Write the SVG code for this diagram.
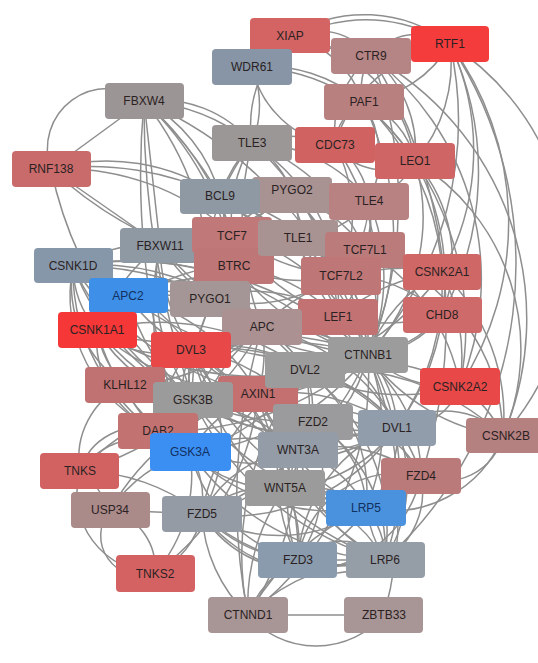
<svg xmlns="http://www.w3.org/2000/svg" width="538" height="663" viewBox="0 0 538 663">
<style>
.e path{fill:none;stroke:#8e8e8e;stroke-width:1.5}
.n rect{rx:4px;ry:4px}
.n text{font-family:"Liberation Sans",Arial,sans-serif;font-size:12px;fill:#2a2222;text-anchor:middle}
.b text{fill:#123060}
</style>
<rect width="538" height="663" fill="#ffffff"/>
<g id="edges" class="e">
<path d="M363,102 A60,60 0 0 1 371,56"/>
<path d="M363,102 A80,80 0 0 1 415,161"/>
<path d="M363,102 A50,50 0 0 0 335,145"/>
<path d="M363,102 A120,120 0 0 0 450,44"/>
<path d="M363,102 A150,150 0 0 0 252,67"/>
<path d="M371,56 A120,120 0 0 1 415,161"/>
<path d="M371,56 A100,100 0 0 0 335,145"/>
<path d="M371,56 A60,60 0 0 1 450,44"/>
<path d="M371,56 A130,130 0 0 0 252,67"/>
<path d="M415,161 A60,60 0 0 1 335,145"/>
<path d="M415,161 A150,150 0 0 0 450,44"/>
<path d="M415,161 A200,200 0 0 0 252,67"/>
<path d="M335,145 A140,140 0 0 1 450,44"/>
<path d="M335,145 A100,100 0 0 1 252,67"/>
<path d="M450,44 A160,160 0 0 0 252,67"/>
<path d="M290,36 A140,140 0 0 1 450,44"/>
<path d="M290,36 A70,70 0 0 1 371,56"/>
<path d="M290,36 A100,100 0 0 1 363,102"/>
<path d="M290,36 A150,150 0 0 1 415,161"/>
<path d="M290,36 A120,120 0 0 0 252,143"/>
<path d="M252,67 A100,100 0 0 1 252,143"/>
<path d="M450,44 A260,260 0 0 1 503,436"/>
<path d="M371,56 A300,300 0 0 1 503,436"/>
<path d="M415,161 A220,220 0 0 1 503,436"/>
<path d="M363,102 A250,250 0 0 1 442,272"/>
<path d="M450,44 A350,350 0 0 1 368,355"/>
<path d="M371,56 A400,400 0 0 1 368,355"/>
<path d="M415,161 A200,200 0 0 1 368,355"/>
<path d="M335,145 A250,250 0 0 1 368,355"/>
<path d="M363,102 A300,300 0 0 1 368,355"/>
<path d="M450,44 A400,400 0 0 1 385,560"/>
<path d="M371,56 A280,280 0 0 1 460,386"/>
<path d="M450,44 A300,300 0 0 1 460,386"/>
<path d="M415,161 A150,150 0 0 1 442,315"/>
<path d="M363,102 A100,100 0 0 1 369,201"/>
<path d="M335,145 A80,80 0 0 1 369,201"/>
<path d="M335,145 A150,150 0 0 1 340,275"/>
<path d="M415,161 A80,80 0 0 1 369,201"/>
<path d="M450,44 A250,250 0 0 1 442,272"/>
<path d="M450,44 A300,300 0 0 1 442,315"/>
<path d="M363,102 A300,300 0 0 1 460,386"/>
<path d="M415,161 A250,250 0 0 1 397,427"/>
<path d="M371,56 A500,500 0 0 1 421,476"/>
<path d="M368,355 A200,200 0 0 0 262,327"/>
<path d="M368,355 A200,200 0 0 1 258,394"/>
<path d="M368,355 A250,250 0 0 1 193,400"/>
<path d="M368,355 A250,250 0 0 1 190,452"/>
<path d="M368,355 A120,120 0 0 1 397,427"/>
<path d="M368,355 A150,150 0 0 1 305,370"/>
<path d="M368,355 A250,250 0 0 0 191,349"/>
<path d="M368,355 A200,200 0 0 1 366,508"/>
<path d="M368,355 A250,250 0 0 1 385,560"/>
<path d="M368,355 A200,200 0 0 0 232,234"/>
<path d="M368,355 A150,150 0 0 0 365,250"/>
<path d="M368,355 A100,100 0 0 0 340,275"/>
<path d="M368,355 A100,100 0 0 1 338,317"/>
<path d="M368,355 A250,250 0 0 1 234,265"/>
<path d="M368,355 A300,300 0 0 1 160,245"/>
<path d="M368,355 A300,300 0 0 1 97,330"/>
<path d="M368,355 A350,350 0 0 0 73,266"/>
<path d="M368,355 A150,150 0 0 1 442,272"/>
<path d="M368,355 A120,120 0 0 0 460,386"/>
<path d="M368,355 A200,200 0 0 0 503,436"/>
<path d="M368,355 A150,150 0 0 0 298,238"/>
<path d="M368,355 A200,200 0 0 1 210,298"/>
<path d="M368,355 A250,250 0 0 0 292,195"/>
<path d="M368,355 A250,250 0 0 0 220,196"/>
<path d="M368,355 A300,300 0 0 1 128,296"/>
<path d="M368,355 A300,300 0 0 1 248,615"/>
<path d="M368,355 A300,300 0 0 1 202,514"/>
<path d="M368,355 A150,150 0 0 1 298,450"/>
<path d="M368,355 A120,120 0 0 0 442,315"/>
<path d="M368,355 A300,300 0 0 1 157,431"/>
<path d="M368,355 A300,300 0 0 0 125,385"/>
<path d="M262,327 A150,150 0 0 1 258,394"/>
<path d="M262,327 A150,150 0 0 0 193,400"/>
<path d="M262,327 A200,200 0 0 0 190,452"/>
<path d="M262,327 A200,200 0 0 1 397,427"/>
<path d="M262,327 A120,120 0 0 1 305,370"/>
<path d="M262,327 A120,120 0 0 0 191,349"/>
<path d="M262,327 A250,250 0 0 1 97,330"/>
<path d="M262,327 A250,250 0 0 0 73,266"/>
<path d="M262,327 A150,150 0 0 1 234,265"/>
<path d="M262,327 A200,200 0 0 1 160,245"/>
<path d="M262,327 A200,200 0 0 0 128,296"/>
<path d="M262,327 A200,200 0 0 1 442,272"/>
<path d="M262,327 A200,200 0 0 1 125,385"/>
<path d="M262,327 A300,300 0 0 1 80,471"/>
<path d="M258,394 A100,100 0 0 0 193,400"/>
<path d="M258,394 A150,150 0 0 0 190,452"/>
<path d="M258,394 A200,200 0 0 1 397,427"/>
<path d="M258,394 A120,120 0 0 1 305,370"/>
<path d="M258,394 A150,150 0 0 1 191,349"/>
<path d="M258,394 A250,250 0 0 1 97,330"/>
<path d="M258,394 A300,300 0 0 1 73,266"/>
<path d="M258,394 A200,200 0 0 0 366,508"/>
<path d="M258,394 A250,250 0 0 0 385,560"/>
<path d="M258,394 A100,100 0 0 1 312,421"/>
<path d="M258,394 A150,150 0 0 0 298,450"/>
<path d="M258,394 A250,250 0 0 0 80,471"/>
<path d="M258,394 A250,250 0 0 1 155,573"/>
<path d="M258,394 A250,250 0 0 0 110,510"/>
<path d="M193,400 A120,120 0 0 1 190,452"/>
<path d="M193,400 A250,250 0 0 0 397,427"/>
<path d="M193,400 A150,150 0 0 0 305,370"/>
<path d="M193,400 A100,100 0 0 1 191,349"/>
<path d="M193,400 A250,250 0 0 0 366,508"/>
<path d="M193,400 A300,300 0 0 0 385,560"/>
<path d="M193,400 A150,150 0 0 1 97,330"/>
<path d="M193,400 A250,250 0 0 1 73,266"/>
<path d="M193,400 A200,200 0 0 1 234,265"/>
<path d="M193,400 A200,200 0 0 1 160,245"/>
<path d="M193,400 A100,100 0 0 0 157,431"/>
<path d="M193,400 A250,250 0 0 0 312,421"/>
<path d="M193,400 A200,200 0 0 1 298,450"/>
<path d="M190,452 A250,250 0 0 0 397,427"/>
<path d="M190,452 A200,200 0 0 0 305,370"/>
<path d="M190,452 A150,150 0 0 1 191,349"/>
<path d="M190,452 A200,200 0 0 0 366,508"/>
<path d="M190,452 A250,250 0 0 0 385,560"/>
<path d="M190,452 A150,150 0 0 0 298,560"/>
<path d="M190,452 A100,100 0 0 1 202,514"/>
<path d="M190,452 A120,120 0 0 1 298,450"/>
<path d="M190,452 A120,120 0 0 0 285,488"/>
<path d="M190,452 A200,200 0 0 1 97,330"/>
<path d="M190,452 A800,800 0 0 1 144,101"/>
<path d="M190,452 A300,300 0 0 1 160,245"/>
<path d="M190,452 A250,250 0 0 1 234,265"/>
<path d="M190,452 A80,80 0 0 0 80,471"/>
<path d="M190,452 A150,150 0 0 0 110,510"/>
<path d="M190,452 A150,150 0 0 1 155,573"/>
<path d="M190,452 A120,120 0 0 1 125,385"/>
<path d="M397,427 A150,150 0 0 0 305,370"/>
<path d="M397,427 A250,250 0 0 0 191,349"/>
<path d="M397,427 A150,150 0 0 1 312,421"/>
<path d="M397,427 A150,150 0 0 1 298,450"/>
<path d="M397,427 A150,150 0 0 1 285,488"/>
<path d="M397,427 A100,100 0 0 1 366,508"/>
<path d="M397,427 A150,150 0 0 1 385,560"/>
<path d="M397,427 A150,150 0 0 0 298,560"/>
<path d="M397,427 A200,200 0 0 1 202,514"/>
<path d="M397,427 A100,100 0 0 0 421,476"/>
<path d="M397,427 A80,80 0 0 1 503,436"/>
<path d="M397,427 A60,60 0 0 0 460,386"/>
<path d="M397,427 A300,300 0 0 0 73,266"/>
<path d="M397,427 A300,300 0 0 1 97,330"/>
<path d="M305,370 A150,150 0 0 0 191,349"/>
<path d="M305,370 A100,100 0 0 1 312,421"/>
<path d="M305,370 A120,120 0 0 0 298,450"/>
<path d="M305,370 A150,150 0 0 1 285,488"/>
<path d="M305,370 A150,150 0 0 1 366,508"/>
<path d="M305,370 A200,200 0 0 1 385,560"/>
<path d="M305,370 A200,200 0 0 0 298,560"/>
<path d="M305,370 A200,200 0 0 0 202,514"/>
<path d="M305,370 A150,150 0 0 1 421,476"/>
<path d="M305,370 A200,200 0 0 1 460,386"/>
<path d="M305,370 A250,250 0 0 1 503,436"/>
<path d="M305,370 A300,300 0 0 0 73,266"/>
<path d="M305,370 A250,250 0 0 0 97,330"/>
<path d="M191,349 A200,200 0 0 1 312,421"/>
<path d="M191,349 A200,200 0 0 0 298,450"/>
<path d="M191,349 A200,200 0 0 1 285,488"/>
<path d="M191,349 A250,250 0 0 0 366,508"/>
<path d="M191,349 A300,300 0 0 0 385,560"/>
<path d="M191,349 A250,250 0 0 1 298,560"/>
<path d="M191,349 A150,150 0 0 1 202,514"/>
<path d="M191,349 A150,150 0 0 1 421,476"/>
<path d="M191,349 A200,200 0 0 0 73,266"/>
<path d="M191,349 A100,100 0 0 1 97,330"/>
<path d="M312,421 A150,150 0 0 0 285,488"/>
<path d="M312,421 A150,150 0 0 1 298,560"/>
<path d="M312,421 A100,100 0 0 1 421,476"/>
<path d="M312,421 A150,150 0 0 1 202,514"/>
<path d="M312,421 A100,100 0 0 1 366,508"/>
<path d="M312,421 A150,150 0 0 1 385,560"/>
<path d="M298,450 A150,150 0 0 0 298,560"/>
<path d="M298,450 A150,150 0 0 1 421,476"/>
<path d="M298,450 A120,120 0 0 0 202,514"/>
<path d="M298,450 A120,120 0 0 1 366,508"/>
<path d="M298,450 A150,150 0 0 0 385,560"/>
<path d="M285,488 A120,120 0 0 1 298,560"/>
<path d="M285,488 A150,150 0 0 0 421,476"/>
<path d="M285,488 A100,100 0 0 0 202,514"/>
<path d="M285,488 A100,100 0 0 1 366,508"/>
<path d="M285,488 A150,150 0 0 1 385,560"/>
<path d="M298,560 A100,100 0 0 1 421,476"/>
<path d="M298,560 A150,150 0 0 1 202,514"/>
<path d="M298,560 A120,120 0 0 0 366,508"/>
<path d="M298,560 A60,60 0 0 1 385,560"/>
<path d="M298,560 A200,200 0 0 0 385,560"/>
<path d="M298,560 L385,560"/>
<path d="M421,476 A120,120 0 0 1 202,514"/>
<path d="M421,476 A100,100 0 0 1 366,508"/>
<path d="M421,476 A80,80 0 0 1 385,560"/>
<path d="M202,514 A150,150 0 0 0 366,508"/>
<path d="M202,514 A150,150 0 0 0 385,560"/>
<path d="M202,514 A200,200 0 0 0 385,560"/>
<path d="M366,508 A80,80 0 0 1 385,560"/>
<path d="M366,508 A150,150 0 0 0 385,560"/>
<path d="M503,436 A60,60 0 0 1 421,476"/>
<path d="M503,436 A120,120 0 0 1 366,508"/>
<path d="M202,514 A80,80 0 0 1 155,573"/>
<path d="M202,514 L110,510"/>
<path d="M202,514 A150,150 0 0 0 248,615"/>
<path d="M248,615 L384,615"/>
<path d="M248,615 A90,90 0 0 0 384,615"/>
<path d="M248,615 A100,100 0 0 1 298,560"/>
<path d="M248,615 A200,200 0 0 1 385,560"/>
<path d="M248,615 A250,250 0 0 1 366,508"/>
<path d="M248,615 A300,300 0 0 1 305,370"/>
<path d="M248,615 A600,600 0 0 1 262,327"/>
<path d="M248,615 A300,300 0 0 0 298,450"/>
<path d="M248,615 A200,200 0 0 1 285,488"/>
<path d="M384,615 A400,400 0 0 0 368,355"/>
<path d="M80,471 A100,100 0 0 1 110,510"/>
<path d="M80,471 A80,80 0 0 0 155,573"/>
<path d="M80,471 A60,60 0 0 1 157,431"/>
<path d="M110,510 A40,40 0 0 0 155,573"/>
<path d="M110,510 A60,60 0 0 1 155,573"/>
<path d="M80,471 A200,200 0 0 1 202,514"/>
<path d="M80,471 A80,80 0 0 1 125,385"/>
<path d="M125,385 A150,150 0 0 1 191,349"/>
<path d="M125,385 A250,250 0 0 0 305,370"/>
<path d="M73,266 A120,120 0 0 0 125,385"/>
<path d="M73,266 A150,150 0 0 0 157,431"/>
<path d="M73,266 A200,200 0 0 0 190,452"/>
<path d="M73,266 A300,300 0 0 0 193,400"/>
<path d="M73,266 A100,100 0 0 0 97,330"/>
<path d="M73,266 A150,150 0 0 1 160,245"/>
<path d="M97,330 A100,100 0 0 0 157,431"/>
<path d="M97,330 A100,100 0 0 0 125,385"/>
<path d="M157,431 A150,150 0 0 1 191,349"/>
<path d="M157,431 A250,250 0 0 1 305,370"/>
<path d="M157,431 A300,300 0 0 1 397,427"/>
<path d="M144,101 A60,60 0 0 0 51,169"/>
<path d="M144,101 L51,169"/>
<path d="M144,101 A200,200 0 0 1 252,143"/>
<path d="M144,101 A120,120 0 0 1 252,143"/>
<path d="M144,101 A150,150 0 0 1 220,196"/>
<path d="M144,101 A400,400 0 0 1 220,196"/>
<path d="M144,101 L160,245"/>
<path d="M144,101 A300,300 0 0 1 234,265"/>
<path d="M144,101 A300,300 0 0 1 232,234"/>
<path d="M144,101 A400,400 0 0 1 368,355"/>
<path d="M144,101 A900,900 0 0 0 193,400"/>
<path d="M144,101 A300,300 0 0 1 210,298"/>
<path d="M51,169 A300,300 0 0 1 220,196"/>
<path d="M51,169 A200,200 0 0 1 220,196"/>
<path d="M51,169 A250,250 0 0 1 232,234"/>
<path d="M51,169 L160,245"/>
<path d="M51,169 A400,400 0 0 0 234,265"/>
<path d="M51,169 A400,400 0 0 0 193,400"/>
<path d="M220,196 A100,100 0 0 1 292,195"/>
<path d="M220,196 A150,150 0 0 1 210,298"/>
<path d="M220,196 A150,150 0 0 0 232,234"/>
<path d="M220,196 A200,200 0 0 0 365,250"/>
<path d="M220,196 A200,200 0 0 1 340,275"/>
<path d="M220,196 A200,200 0 0 1 338,317"/>
<path d="M220,196 A150,150 0 0 1 252,143"/>
<path d="M220,196 A200,200 0 0 0 298,238"/>
<path d="M292,195 A150,150 0 0 0 210,298"/>
<path d="M292,195 A150,150 0 0 1 365,250"/>
<path d="M292,195 A150,150 0 0 0 340,275"/>
<path d="M292,195 A150,150 0 0 1 338,317"/>
<path d="M292,195 A100,100 0 0 0 232,234"/>
<path d="M252,143 A100,100 0 0 1 298,238"/>
<path d="M252,143 A150,150 0 0 1 369,201"/>
<path d="M252,143 A150,150 0 0 0 232,234"/>
<path d="M252,143 A200,200 0 0 1 365,250"/>
<path d="M252,143 A200,200 0 0 1 340,275"/>
<path d="M252,143 A250,250 0 0 1 338,317"/>
<path d="M252,143 A120,120 0 0 1 335,145"/>
<path d="M252,143 A200,200 0 0 0 210,298"/>
<path d="M252,143 A300,300 0 0 0 262,327"/>
<path d="M369,201 A100,100 0 0 1 298,238"/>
<path d="M369,201 A150,150 0 0 0 232,234"/>
<path d="M369,201 A100,100 0 0 1 365,250"/>
<path d="M369,201 A120,120 0 0 1 340,275"/>
<path d="M369,201 A150,150 0 0 1 338,317"/>
<path d="M369,201 A200,200 0 0 1 368,355"/>
<path d="M298,238 A150,150 0 0 1 365,250"/>
<path d="M298,238 A150,150 0 0 0 340,275"/>
<path d="M298,238 A200,200 0 0 0 338,317"/>
<path d="M298,238 A150,150 0 0 0 210,298"/>
<path d="M232,234 A200,200 0 0 1 365,250"/>
<path d="M232,234 A200,200 0 0 0 340,275"/>
<path d="M232,234 A200,200 0 0 0 338,317"/>
<path d="M232,234 A150,150 0 0 0 210,298"/>
<path d="M234,265 A150,150 0 0 1 160,245"/>
<path d="M234,265 A200,200 0 0 0 97,330"/>
<path d="M234,265 A200,200 0 0 1 73,266"/>
<path d="M234,265 A150,150 0 0 0 340,275"/>
<path d="M234,265 A200,200 0 0 1 338,317"/>
<path d="M160,245 A200,200 0 0 0 97,330"/>
<path d="M160,245 A200,200 0 0 0 191,349"/>
<path d="M210,298 A150,150 0 0 0 365,250"/>
<path d="M210,298 A150,150 0 0 1 338,317"/>
<path d="M210,298 A150,150 0 0 0 128,296"/>
<path d="M128,296 A150,150 0 0 0 191,349"/>
<path d="M128,296 A200,200 0 0 1 258,394"/>
<path d="M128,296 A200,200 0 0 0 193,400"/>
<path d="M442,272 A80,80 0 0 1 442,315"/>
<path d="M442,272 A200,200 0 0 1 460,386"/>
<path d="M442,272 A200,200 0 0 1 503,436"/>
<path d="M442,272 A150,150 0 0 0 340,275"/>
<path d="M442,272 A200,200 0 0 0 338,317"/>
<path d="M442,272 A250,250 0 0 1 305,370"/>
<path d="M442,272 A250,250 0 0 1 397,427"/>
<path d="M442,315 A150,150 0 0 0 340,275"/>
<path d="M442,315 A100,100 0 0 1 368,355"/>
<path d="M442,315 A200,200 0 0 1 338,317"/>
<path d="M460,386 A120,120 0 0 1 503,436"/>
<path d="M460,386 A200,200 0 0 1 305,370"/>
<path d="M460,386 A200,200 0 0 0 365,250"/>
<path d="M503,436 A200,200 0 0 0 365,250"/>
</g>
<g id="n-XIAP" class="n"><rect x="250" y="18" width="80" height="35" fill="#d46464"/><text x="290" y="40">XIAP</text></g>
<g id="n-WDR61" class="n"><rect x="212" y="49" width="80" height="36" fill="#8795a6"/><text x="252" y="71">WDR61</text></g>
<g id="n-CTR9" class="n"><rect x="331" y="38" width="80" height="36" fill="#b58585"/><text x="371" y="60">CTR9</text></g>
<g id="n-RTF1" class="n"><rect x="411" y="26" width="78" height="36" fill="#f53c3c"/><text x="450" y="48">RTF1</text></g>
<g id="n-PAF1" class="n"><rect x="324" y="84" width="80" height="36" fill="#b98080"/><text x="364" y="106">PAF1</text></g>
<g id="n-FBXW4" class="n"><rect x="105" y="83" width="79" height="36" fill="#9c9595"/><text x="144" y="105">FBXW4</text></g>
<g id="n-TLE3" class="n"><rect x="212" y="125" width="80" height="36" fill="#9b9797"/><text x="252" y="147">TLE3</text></g>
<g id="n-CDC73" class="n"><rect x="295" y="127" width="80" height="36" fill="#d16262"/><text x="335" y="149">CDC73</text></g>
<g id="n-LEO1" class="n"><rect x="375" y="143" width="80" height="36" fill="#cf6565"/><text x="415" y="165">LEO1</text></g>
<g id="n-RNF138" class="n"><rect x="12" y="151" width="79" height="36" fill="#c96b6b"/><text x="51" y="173">RNF138</text></g>
<g id="n-PYGO2" class="n"><rect x="252" y="177" width="80" height="36" fill="#a89292"/><text x="292" y="194">PYGO2</text></g>
<g id="n-BCL9" class="n"><rect x="180" y="179" width="80" height="35" fill="#8f99a4"/><text x="220" y="200">BCL9</text></g>
<g id="n-TLE4" class="n"><rect x="329" y="183" width="80" height="37" fill="#b98282"/><text x="369" y="205">TLE4</text></g>
<g id="n-FBXW11" class="n"><rect x="120" y="228" width="80" height="35" fill="#8f99a4"/><text x="160" y="250">FBXW11</text></g>
<g id="n-TCF7" class="n"><rect x="192" y="217" width="80" height="36" fill="#c07878"/><text x="232" y="240">TCF7</text></g>
<g id="n-BTRC" class="n"><rect x="194" y="248" width="80" height="36" fill="#bf7676"/><text x="234" y="270">BTRC</text></g>
<g id="n-TLE1" class="n"><rect x="258" y="220" width="80" height="36" fill="#a99292"/><text x="298" y="242">TLE1</text></g>
<g id="n-TCF7L1" class="n"><rect x="325" y="232" width="80" height="36" fill="#bc7b7b"/><text x="365" y="254">TCF7L1</text></g>
<g id="n-TCF7L2" class="n"><rect x="301" y="257" width="80" height="38" fill="#bf7676"/><text x="341" y="280">TCF7L2</text></g>
<g id="n-CSNK1D" class="n"><rect x="34" y="248" width="79" height="35" fill="#8797aa"/><text x="73" y="270">CSNK1D</text></g>
<g id="n-CSNK2A1" class="n"><rect x="403" y="254" width="78" height="36" fill="#cf6767"/><text x="442" y="276">CSNK2A1</text></g>
<g id="n-APC2" class="n b"><rect x="89" y="278" width="79" height="35" fill="#3d8fe8"/><text x="128" y="300">APC2</text></g>
<g id="n-PYGO1" class="n"><rect x="170" y="281" width="80" height="36" fill="#a49696"/><text x="210" y="303">PYGO1</text></g>
<g id="n-CHD8" class="n"><rect x="403" y="297" width="79" height="36" fill="#cf6a6a"/><text x="442" y="319">CHD8</text></g>
<g id="n-LEF1" class="n"><rect x="298" y="299" width="80" height="36" fill="#c27272"/><text x="338" y="321">LEF1</text></g>
<g id="n-APC" class="n"><rect x="222" y="309" width="80" height="36" fill="#ab9191"/><text x="262" y="331">APC</text></g>
<g id="n-CSNK1A1" class="n"><rect x="58" y="312" width="79" height="36" fill="#f53737"/><text x="97" y="334">CSNK1A1</text></g>
<g id="n-DVL3" class="n"><rect x="151" y="332" width="80" height="36" fill="#e84848"/><text x="191" y="354">DVL3</text></g>
<g id="n-CTNNB1" class="n"><rect x="328" y="337" width="80" height="36" fill="#9c9c9c"/><text x="368" y="359">CTNNB1</text></g>
<g id="n-AXIN1" class="n"><rect x="218" y="376" width="80" height="36" fill="#c47070"/><text x="258" y="398">AXIN1</text></g>
<g id="n-DVL2" class="n"><rect x="265" y="352" width="80" height="36" fill="#9c9c9c"/><text x="305" y="374">DVL2</text></g>
<g id="n-KLHL12" class="n"><rect x="85" y="367" width="80" height="36" fill="#c07272"/><text x="125" y="389">KLHL12</text></g>
<g id="n-GSK3B" class="n"><rect x="153" y="382" width="80" height="36" fill="#9b9b9b"/><text x="193" y="404">GSK3B</text></g>
<g id="n-CSNK2A2" class="n"><rect x="420" y="368" width="80" height="37" fill="#e94848"/><text x="460" y="391">CSNK2A2</text></g>
<g id="n-FZD2" class="n"><rect x="273" y="404" width="80" height="36" fill="#9b9b9d"/><text x="313" y="426">FZD2</text></g>
<g id="n-DVL1" class="n"><rect x="358" y="410" width="78" height="36" fill="#919dab"/><text x="397" y="432">DVL1</text></g>
<g id="n-CSNK2B" class="n"><rect x="466" y="418" width="80" height="35" fill="#b58080"/><text x="506" y="440">CSNK2B</text></g>
<g id="n-DAB2" class="n"><rect x="118" y="413" width="80" height="36" fill="#c37272"/><text x="158" y="435">DAB2</text></g>
<g id="n-WNT3A" class="n"><rect x="258" y="432" width="80" height="36" fill="#939ca7"/><text x="298" y="454">WNT3A</text></g>
<g id="n-GSK3A" class="n b"><rect x="150" y="433" width="81" height="38" fill="#3b8ef2"/><text x="190" y="456">GSK3A</text></g>
<g id="n-TNKS" class="n"><rect x="40" y="453" width="79" height="36" fill="#d26262"/><text x="80" y="475">TNKS</text></g>
<g id="n-FZD4" class="n"><rect x="381" y="458" width="80" height="36" fill="#ba7a7a"/><text x="421" y="480">FZD4</text></g>
<g id="n-WNT5A" class="n"><rect x="245" y="470" width="80" height="36" fill="#9b9b9b"/><text x="285" y="492">WNT5A</text></g>
<g id="n-USP34" class="n"><rect x="71" y="492" width="79" height="36" fill="#ab8a8a"/><text x="110" y="514">USP34</text></g>
<g id="n-FZD5" class="n"><rect x="162" y="496" width="80" height="36" fill="#949ba5"/><text x="202" y="518">FZD5</text></g>
<g id="n-LRP5" class="n b"><rect x="326" y="490" width="80" height="36" fill="#4a92dd"/><text x="366" y="512">LRP5</text></g>
<g id="n-TNKS2" class="n"><rect x="116" y="555" width="79" height="37" fill="#d56262"/><text x="155" y="578">TNKS2</text></g>
<g id="n-FZD3" class="n"><rect x="258" y="542" width="79" height="36" fill="#8a9bad"/><text x="298" y="564">FZD3</text></g>
<g id="n-LRP6" class="n"><rect x="346" y="542" width="79" height="36" fill="#959da7"/><text x="385" y="564">LRP6</text></g>
<g id="n-CTNND1" class="n"><rect x="208" y="597" width="80" height="36" fill="#a89595"/><text x="248" y="619">CTNND1</text></g>
<g id="n-ZBTB33" class="n"><rect x="344" y="597" width="79" height="36" fill="#a89595"/><text x="384" y="619">ZBTB33</text></g>
</svg>
